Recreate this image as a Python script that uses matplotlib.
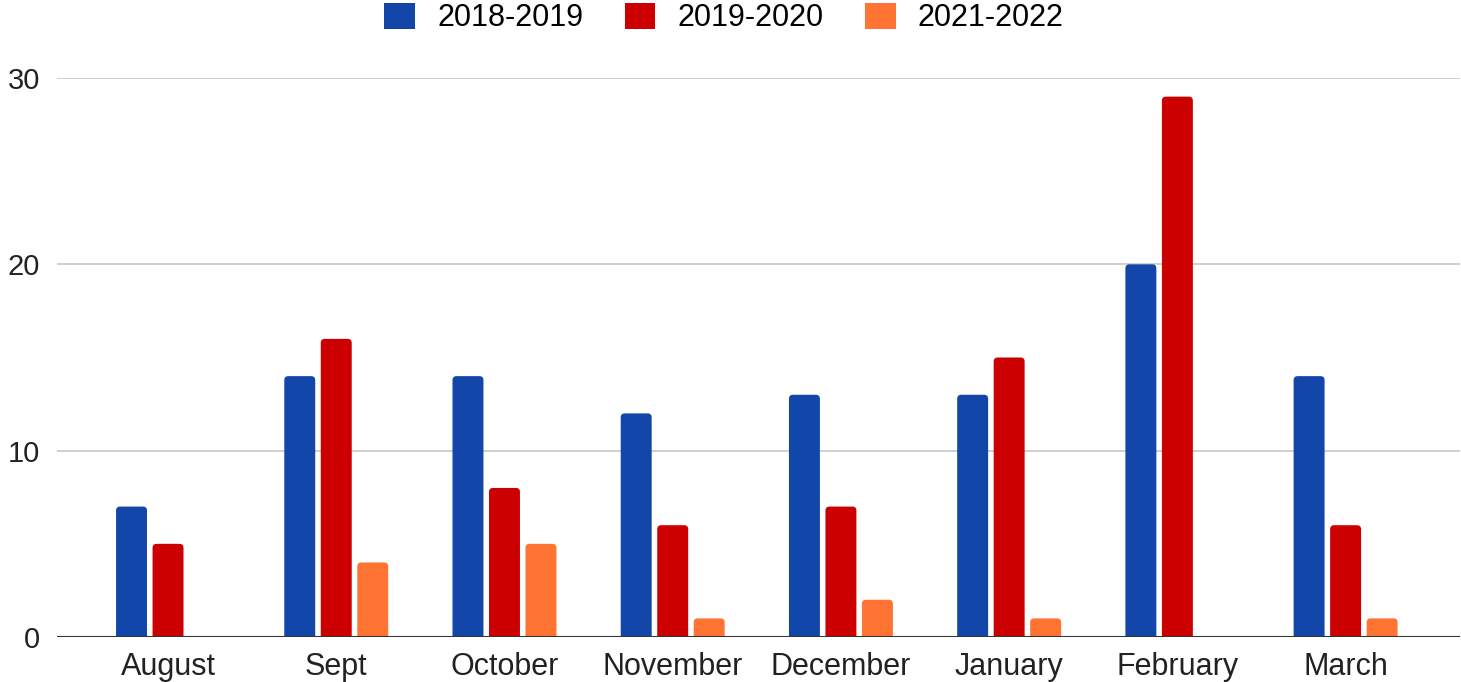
import matplotlib.pyplot as plt
import numpy as np
from matplotlib.patches import Patch, FancyBboxPatch

months = ["August", "Sept", "October", "November", "December", "January", "February", "March"]
season_2018_2019 = [7, 14, 14, 12, 13, 13, 20, 14]
season_2019_2020 = [5, 16, 8, 6, 7, 15, 29, 6]
season_2021_2022 = [0, 4, 5, 1, 2, 1, 0, 1]

series = ["2018-2019", "2019-2020", "2021-2022"]
colors = ["#1246a9", "#cc0000", "#ff7433"]

plt.rcParams['font.family'] = ['Liberation Sans', 'DejaVu Sans']

W, H = 1461, 682
fig = plt.figure(figsize=(W / 100, H / 100), dpi=100)
ax = fig.add_axes([57 / W, 45 / H, (1460 - 57) / W, (637 - 78) / H])

x = np.arange(len(months))
width = 0.184
step = 0.217
xlim = (-0.66, 7.68)
ylim = (0, 30)
ax.set_xlim(*xlim)
ax.set_ylim(*ylim)

# pixel size of one data unit, to get round corners of equal radius
ax_w = (1460 - 57)
ax_h = (637 - 78)
px_x = ax_w / (xlim[1] - xlim[0])
px_y = ax_h / (ylim[1] - ylim[0])
radius_px = 4

for i, vals in enumerate([season_2018_2019, season_2019_2020, season_2021_2022]):
    bars = ax.bar(x + (i - 1) * step, vals, width, color=colors[i], zorder=3)
    for b in bars:
        if b.get_height() <= 0:
            continue
        b.set_visible(False)
        # start below zero so the lower corners get clipped away
        y0 = -1.0
        p = FancyBboxPatch((b.get_x(), y0), b.get_width(), b.get_height() - y0,
                           boxstyle="round,pad=0,rounding_size=%f" % (radius_px / px_x),
                           mutation_aspect=px_x / px_y,
                           facecolor=colors[i], edgecolor='none', zorder=3)
        ax.add_patch(p)

ax.set_yticks([0, 10, 20, 30])
ax.set_xticks(x)
ax.set_xticklabels(months)
ax.grid(axis='y', color='#cccccc', linewidth=1.3, zorder=0)
ax.axhline(0, color='#333333', linewidth=1.5, zorder=4)
for s in ax.spines.values():
    s.set_visible(False)
ax.tick_params(axis='both', length=0, labelsize=21, colors='#222222')
ax.tick_params(axis='x', labelsize=22, pad=11)
ax.tick_params(axis='y', pad=12)

handles = [Patch(facecolor=c, label=l) for c, l in zip(colors, series)]
fig.legend(handles=handles, loc='center', ncol=3, frameon=False,
           bbox_to_anchor=(0.4955, 1 - 18 / H), fontsize=22,
           handlelength=1.01, handleheight=0.92, handletextpad=0.72,
           columnspacing=1.35, borderaxespad=0, borderpad=0)

plt.savefig("out.png", dpi=100)
